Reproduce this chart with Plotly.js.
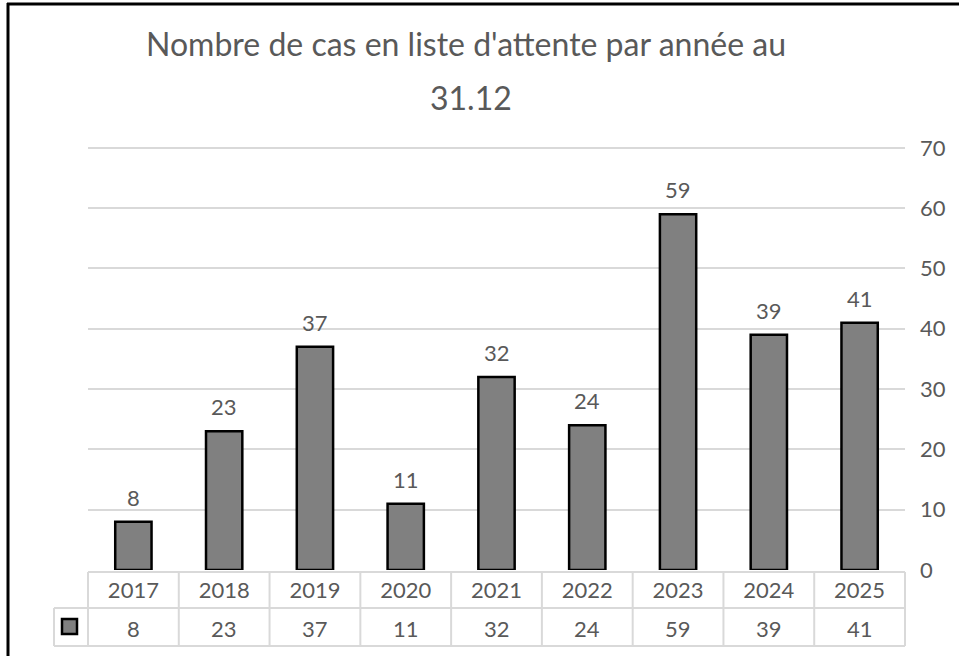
<!DOCTYPE html>
<html>
<head>
<meta charset="utf-8">
<script src="https://cdn.plot.ly/plotly-3.0.1.min.js"></script>
<style>html,body{margin:0;padding:0;background:#fff;}#chart{width:959px;height:656px;}</style>
</head>
<body>
<div id="chart"></div>
<script>
const years = ["2017","2018","2019","2020","2021","2022","2023","2024","2025"];
const values = [8, 23, 37, 11, 32, 24, 59, 39, 41];
const titleLine1 = "Nombre de cas en liste d'attente par année au";
const titleLine2 = "31.12";

const FONT = "Lato, 'Open Sans', sans-serif";
const TXT = "#595959";
const GRID = "#d9d9d9";

// plot area geometry in pixels (used to convert to paper coords for chrome)
const W = 959, H = 656, L = 88, R = 54, T = 146, B = 86;
const pw = W - L - R, ph = H - T - B;
const px = x => (x - L) / pw;
const py = y => (H - B - y) / ph;

const n = years.length;
const shapes = [];
const tableTop = py(572), tableMid = py(608), tableBot = py(646);
const keyLeft = px(54);
// horizontal table lines
shapes.push({type:'line', xref:'paper', yref:'paper', x0:0, x1:1, y0:tableTop, y1:tableTop, line:{color:GRID, width:2}});
shapes.push({type:'line', xref:'paper', yref:'paper', x0:keyLeft, x1:1, y0:tableMid, y1:tableMid, line:{color:GRID, width:2}});
shapes.push({type:'line', xref:'paper', yref:'paper', x0:keyLeft, x1:1, y0:tableBot, y1:tableBot, line:{color:GRID, width:2}});
// vertical table lines at category boundaries
for (let i = 0; i <= n; i++) {
  shapes.push({type:'line', xref:'paper', yref:'paper', x0:i/n, x1:i/n, y0:tableTop, y1:tableBot, line:{color:GRID, width:2}});
}
shapes.push({type:'line', xref:'paper', yref:'paper', x0:keyLeft, x1:keyLeft, y0:tableMid, y1:tableBot, line:{color:GRID, width:2}});
// legend key
shapes.push({type:'rect', xref:'paper', yref:'paper', x0:px(62), x1:px(77), y0:py(619), y1:py(634), fillcolor:'#808080', line:{color:'#000', width:2.5}});
// chart border (left and top visible)
shapes.push({type:'line', xref:'paper', yref:'paper', x0:px(8), x1:px(8), y0:py(3), y1:py(700), line:{color:'#000', width:3}});
shapes.push({type:'line', xref:'paper', yref:'paper', x0:px(7), x1:px(1000), y0:py(4), y1:py(4), line:{color:'#000', width:3}});

const annotations = [];
// value labels above bars (x = category index)
years.forEach((yr, i) => {
  annotations.push({x: i, y: values[i], xref:'x', yref:'y', text: String(values[i]), showarrow:false,
    yanchor:'bottom', yshift: 9, font:{family:FONT, size:22, color:TXT}});
});
// data table value row
years.forEach((yr, i) => {
  annotations.push({x: i, y: py(628), xref:'x', yref:'paper', text: String(values[i]), showarrow:false,
    yanchor:'middle', font:{family:FONT, size:22, color:TXT}});
});
// title second line
annotations.push({x: px(471), y: py(97), xref:'paper', yref:'paper', text: titleLine2, showarrow:false,
  xanchor:'center', yanchor:'middle', font:{family:FONT, size:32, color:TXT}});

const trace = {
  type:'bar', x: years, y: values,
  marker:{color:'#808080', line:{color:'#000', width:2.5}},
  hoverinfo:'x+y', showlegend:false
};

const layout = {
  width: W, height: H,
  margin:{l:L, r:R, t:T, b:B, pad:0},
  paper_bgcolor:'#fff', plot_bgcolor:'#fff',
  font:{family:FONT, color:TXT},
  title:{text: titleLine1, xref:'container', yref:'container', x: 466/W, y: 1 - 45/H,
    xanchor:'center', yanchor:'middle', font:{family:FONT, size:32, color:TXT}},
  bargap: 0.6,
  xaxis:{type:'category', categoryorder:'array', categoryarray: years, range:[-0.5, n - 0.5], autorange:false,
    showgrid:false, showline:false, zeroline:false, ticks:'',
    tickfont:{family:FONT, size:22, color:TXT}, ticklabelstandoff: 5, fixedrange:true},
  yaxis:{side:'right', range:[0,70.3], dtick:10, tick0:0, showgrid:true, gridcolor:GRID, gridwidth:2,
    zeroline:false, showline:false, ticks:'', tickfont:{family:FONT, size:22, color:TXT},
    ticklabelstandoff: 14, fixedrange:true},
  shapes: shapes,
  annotations: annotations
};

Plotly.newPlot('chart', [trace], layout, {displayModeBar:false, staticPlot:true});
</script>
</body>
</html>
